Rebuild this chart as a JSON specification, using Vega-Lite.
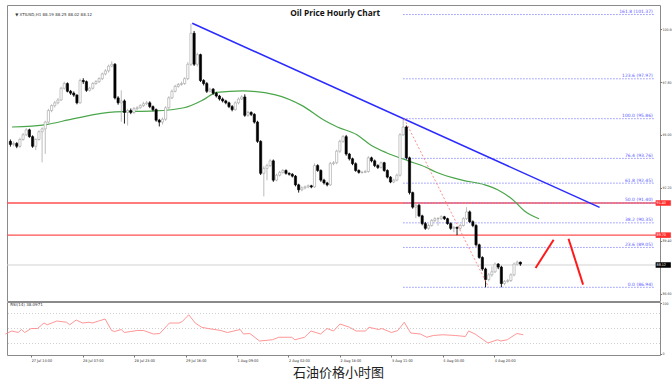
{
  "$schema": "https://vega.github.io/schema/vega-lite/v6.json",
  "padding": {"left": 3, "top": 4, "right": 0, "bottom": 0},
  "background": "white",
  "bounds": "flush",
  "spacing": 1,
  "config": {"view": {"stroke": "#8a8a8a", "strokeWidth": 1}, "font": "DejaVu Sans"},
  "datasets": {
    "candles": [
      {"i":0,"o":94.66,"h":94.76,"l":94.38,"c":94.50},{"i":1,"o":94.50,"h":94.65,"l":94.40,"c":94.55},{"i":2,"o":94.55,"h":94.62,"l":94.30,"c":94.40},{"i":3,"o":94.40,"h":94.85,"l":94.32,"c":94.76},{"i":4,"o":94.76,"h":95.10,"l":94.70,"c":95.01},{"i":5,"o":95.01,"h":95.36,"l":94.95,"c":95.27},{"i":6,"o":95.27,"h":95.33,"l":94.85,"c":94.91},{"i":7,"o":94.91,"h":94.98,"l":94.32,"c":94.40},{"i":8,"o":94.40,"h":94.82,"l":94.20,"c":94.76},{"i":9,"o":94.76,"h":95.25,"l":94.70,"c":95.17},
      {"i":10,"o":95.17,"h":95.40,"l":93.55,"c":95.32},{"i":11,"o":95.32,"h":95.75,"l":94.00,"c":95.68},{"i":12,"o":95.68,"h":96.38,"l":95.60,"c":96.29},{"i":13,"o":96.29,"h":96.62,"l":96.20,"c":96.55},{"i":14,"o":96.55,"h":96.80,"l":96.45,"c":96.70},{"i":15,"o":96.70,"h":96.95,"l":96.62,"c":96.85},{"i":16,"o":96.85,"h":97.55,"l":96.80,"c":97.47},{"i":17,"o":97.47,"h":97.82,"l":97.40,"c":97.72},{"i":18,"o":97.72,"h":97.78,"l":97.25,"c":97.31},{"i":19,"o":97.31,"h":97.38,"l":97.12,"c":97.21},
      {"i":20,"o":97.21,"h":97.30,"l":97.02,"c":97.11},{"i":21,"o":97.11,"h":97.15,"l":96.62,"c":96.70},{"i":22,"o":96.70,"h":97.98,"l":96.65,"c":97.88},{"i":23,"o":97.88,"h":98.00,"l":97.70,"c":97.82},{"i":24,"o":97.82,"h":97.88,"l":97.28,"c":97.36},{"i":25,"o":97.36,"h":97.55,"l":97.30,"c":97.47},{"i":26,"o":97.47,"h":97.80,"l":97.40,"c":97.72},{"i":27,"o":97.72,"h":97.90,"l":97.65,"c":97.82},{"i":28,"o":97.82,"h":98.05,"l":97.75,"c":97.98},{"i":29,"o":97.98,"h":98.30,"l":97.90,"c":98.23},
      {"i":30,"o":98.23,"h":98.48,"l":98.15,"c":98.39},{"i":31,"o":98.39,"h":98.72,"l":98.30,"c":98.64},{"i":32,"o":98.64,"h":98.90,"l":98.58,"c":98.74},{"i":33,"o":98.74,"h":98.80,"l":96.88,"c":96.96},{"i":34,"o":96.96,"h":97.05,"l":96.60,"c":96.70},{"i":35,"o":96.70,"h":97.36,"l":95.70,"c":96.80},{"i":36,"o":96.80,"h":96.88,"l":95.60,"c":96.19},{"i":37,"o":96.19,"h":96.38,"l":95.50,"c":96.29},{"i":38,"o":96.29,"h":96.40,"l":96.10,"c":96.19},{"i":39,"o":96.19,"h":96.48,"l":96.12,"c":96.39},
      {"i":40,"o":96.39,"h":96.52,"l":96.30,"c":96.44},{"i":41,"o":96.44,"h":96.62,"l":96.38,"c":96.55},{"i":42,"o":96.55,"h":96.75,"l":96.48,"c":96.65},{"i":43,"o":96.65,"h":96.80,"l":96.58,"c":96.70},{"i":44,"o":96.70,"h":96.78,"l":96.42,"c":96.50},{"i":45,"o":96.50,"h":96.56,"l":96.25,"c":96.34},{"i":46,"o":96.34,"h":96.40,"l":95.70,"c":95.78},{"i":47,"o":95.78,"h":95.85,"l":95.45,"c":95.68},{"i":48,"o":95.68,"h":95.92,"l":95.55,"c":95.83},{"i":49,"o":95.83,"h":96.52,"l":95.75,"c":96.44},
      {"i":50,"o":96.44,"h":97.05,"l":96.38,"c":96.96},{"i":51,"o":96.96,"h":97.40,"l":96.90,"c":97.31},{"i":52,"o":97.31,"h":97.65,"l":97.25,"c":97.57},{"i":53,"o":97.57,"h":97.75,"l":97.50,"c":97.67},{"i":54,"o":97.67,"h":97.82,"l":97.60,"c":97.72},{"i":55,"o":97.72,"h":98.05,"l":97.65,"c":97.98},{"i":56,"o":97.98,"h":98.85,"l":97.90,"c":98.74},{"i":57,"o":98.74,"h":100.89,"l":98.65,"c":100.38},{"i":58,"o":100.38,"h":100.50,"l":98.65,"c":98.74},{"i":59,"o":98.74,"h":99.35,"l":98.62,"c":99.25},
      {"i":60,"o":99.25,"h":99.30,"l":97.80,"c":97.88},{"i":61,"o":97.88,"h":97.95,"l":97.62,"c":97.72},{"i":62,"o":97.72,"h":97.80,"l":97.22,"c":97.31},{"i":63,"o":97.31,"h":97.50,"l":97.25,"c":97.42},{"i":64,"o":97.42,"h":97.48,"l":97.12,"c":97.21},{"i":65,"o":97.21,"h":97.28,"l":96.98,"c":97.06},{"i":66,"o":97.06,"h":97.12,"l":96.82,"c":96.90},{"i":67,"o":96.90,"h":96.98,"l":96.72,"c":96.80},{"i":68,"o":96.80,"h":96.86,"l":96.62,"c":96.70},{"i":69,"o":96.70,"h":96.76,"l":96.42,"c":96.50},
      {"i":70,"o":96.50,"h":96.58,"l":96.25,"c":96.34},{"i":71,"o":96.34,"h":96.78,"l":96.28,"c":96.70},{"i":72,"o":96.70,"h":96.98,"l":96.62,"c":96.90},{"i":73,"o":96.90,"h":97.10,"l":96.85,"c":97.01},{"i":74,"o":97.01,"h":97.15,"l":95.96,"c":96.04},{"i":75,"o":96.04,"h":96.28,"l":95.96,"c":96.19},{"i":76,"o":96.19,"h":96.25,"l":96.00,"c":96.09},{"i":77,"o":96.09,"h":96.15,"l":95.60,"c":95.68},{"i":78,"o":95.68,"h":95.75,"l":94.58,"c":94.66},{"i":79,"o":94.66,"h":94.72,"l":92.88,"c":92.97},
      {"i":80,"o":92.97,"h":93.35,"l":91.75,"c":93.23},{"i":81,"o":93.23,"h":93.48,"l":92.60,"c":93.38},{"i":82,"o":93.38,"h":93.72,"l":93.30,"c":93.63},{"i":83,"o":93.63,"h":93.70,"l":92.52,"c":92.61},{"i":84,"o":92.61,"h":92.95,"l":92.55,"c":92.87},{"i":85,"o":92.87,"h":93.10,"l":92.80,"c":93.02},{"i":86,"o":93.02,"h":93.20,"l":92.95,"c":93.12},{"i":87,"o":93.12,"h":93.18,"l":92.90,"c":92.97},{"i":88,"o":92.97,"h":93.02,"l":92.85,"c":92.92},{"i":89,"o":92.92,"h":92.98,"l":92.75,"c":92.82},
      {"i":90,"o":92.82,"h":92.88,"l":92.28,"c":92.36},{"i":91,"o":92.36,"h":92.42,"l":91.95,"c":92.10},{"i":92,"o":92.10,"h":92.28,"l":92.02,"c":92.20},{"i":93,"o":92.20,"h":92.32,"l":92.12,"c":92.25},{"i":94,"o":92.25,"h":92.38,"l":92.18,"c":92.31},{"i":95,"o":92.31,"h":92.36,"l":92.18,"c":92.25},{"i":96,"o":92.25,"h":93.50,"l":92.20,"c":93.38},{"i":97,"o":93.38,"h":93.45,"l":93.05,"c":93.12},{"i":98,"o":93.12,"h":93.18,"l":92.52,"c":92.61},{"i":99,"o":92.61,"h":92.68,"l":92.38,"c":92.46},
      {"i":100,"o":92.46,"h":92.52,"l":92.28,"c":92.36},{"i":101,"o":92.36,"h":93.58,"l":92.30,"c":93.48},{"i":102,"o":93.48,"h":93.62,"l":93.40,"c":93.53},{"i":103,"o":93.53,"h":94.22,"l":93.45,"c":94.14},{"i":104,"o":94.14,"h":94.75,"l":94.05,"c":94.66},{"i":105,"o":94.66,"h":95.00,"l":94.58,"c":94.91},{"i":106,"o":94.91,"h":95.00,"l":93.90,"c":93.99},{"i":107,"o":93.99,"h":94.05,"l":93.65,"c":93.74},{"i":108,"o":93.74,"h":93.80,"l":93.40,"c":93.48},{"i":109,"o":93.48,"h":93.55,"l":93.05,"c":93.12},
      {"i":110,"o":93.12,"h":93.18,"l":92.95,"c":93.02},{"i":111,"o":93.02,"h":93.10,"l":92.95,"c":93.02},{"i":112,"o":93.02,"h":93.14,"l":92.98,"c":93.07},{"i":113,"o":93.07,"h":93.88,"l":93.00,"c":93.79},{"i":114,"o":93.79,"h":93.85,"l":93.55,"c":93.63},{"i":115,"o":93.63,"h":93.70,"l":93.30,"c":93.38},{"i":116,"o":93.38,"h":93.45,"l":93.20,"c":93.28},{"i":117,"o":93.28,"h":93.60,"l":93.22,"c":93.53},{"i":118,"o":93.53,"h":93.58,"l":93.05,"c":93.12},{"i":119,"o":93.12,"h":93.18,"l":92.70,"c":92.77},
      {"i":120,"o":92.77,"h":92.82,"l":92.45,"c":92.51},{"i":121,"o":92.51,"h":92.68,"l":92.45,"c":92.61},{"i":122,"o":92.61,"h":92.95,"l":92.55,"c":92.87},{"i":123,"o":92.87,"h":95.10,"l":92.80,"c":95.01},{"i":124,"o":95.01,"h":95.86,"l":94.95,"c":95.42},{"i":125,"o":95.42,"h":95.50,"l":93.70,"c":93.79},{"i":126,"o":93.79,"h":93.85,"l":91.85,"c":91.95},{"i":127,"o":91.95,"h":92.00,"l":91.10,"c":91.18},{"i":128,"o":91.18,"h":91.40,"l":90.60,"c":91.28},{"i":129,"o":91.28,"h":91.35,"l":90.65,"c":90.72},
      {"i":130,"o":90.72,"h":90.78,"l":90.22,"c":90.31},{"i":131,"o":90.31,"h":90.40,"l":89.98,"c":90.06},{"i":132,"o":90.06,"h":90.30,"l":89.98,"c":90.21},{"i":133,"o":90.21,"h":90.55,"l":90.15,"c":90.47},{"i":134,"o":90.47,"h":90.65,"l":90.40,"c":90.57},{"i":135,"o":90.57,"h":90.65,"l":90.20,"c":90.57},{"i":136,"o":90.57,"h":90.75,"l":90.50,"c":90.67},{"i":137,"o":90.67,"h":90.72,"l":90.50,"c":90.57},{"i":138,"o":90.57,"h":90.62,"l":90.25,"c":90.31},{"i":139,"o":90.31,"h":90.38,"l":89.98,"c":90.06},
      {"i":140,"o":90.06,"h":90.18,"l":89.85,"c":90.11},{"i":141,"o":90.11,"h":90.15,"l":89.70,"c":90.06},{"i":142,"o":90.06,"h":90.30,"l":89.98,"c":90.21},{"i":143,"o":90.21,"h":90.65,"l":90.15,"c":90.57},{"i":144,"o":90.57,"h":91.18,"l":90.50,"c":90.93},{"i":145,"o":90.93,"h":91.00,"l":90.35,"c":90.41},{"i":146,"o":90.41,"h":90.48,"l":90.12,"c":90.21},{"i":147,"o":90.21,"h":90.28,"l":89.10,"c":89.19},{"i":148,"o":89.19,"h":89.25,"l":88.45,"c":88.52},{"i":149,"o":88.52,"h":88.58,"l":87.82,"c":87.91},
      {"i":150,"o":87.91,"h":87.98,"l":86.94,"c":87.35},{"i":151,"o":87.35,"h":87.70,"l":87.25,"c":87.60},{"i":152,"o":87.60,"h":88.05,"l":87.50,"c":87.76},{"i":153,"o":87.76,"h":88.25,"l":87.70,"c":88.17},{"i":154,"o":88.17,"h":88.22,"l":87.90,"c":88.01},{"i":155,"o":88.01,"h":88.08,"l":86.94,"c":87.14},{"i":156,"o":87.14,"h":87.32,"l":87.05,"c":87.25},{"i":157,"o":87.25,"h":87.38,"l":87.18,"c":87.30},{"i":158,"o":87.30,"h":87.68,"l":87.22,"c":87.60},{"i":159,"o":87.60,"h":88.25,"l":87.52,"c":88.17},
      {"i":160,"o":88.17,"h":88.35,"l":88.10,"c":88.27},{"i":161,"o":88.27,"h":88.30,"l":88.08,"c":88.17}
    ],
    "sma": [
      {"i":0.5,"p":95.42},{"i":11.4,"p":95.55},{"i":19.7,"p":95.85},{"i":33.1,"p":96.22},{"i":45.5,"p":96.27},{"i":54.8,"p":96.44},{"i":61,"p":96.87},{"i":65.1,"p":97.25},{"i":73.4,"p":97.33},{"i":83.7,"p":97.12},{"i":92.1,"p":96.55},{"i":99.2,"p":95.76},{"i":103.2,"p":95.42},{"i":109.4,"p":95.01},{"i":113.5,"p":94.5},{"i":118.7,"p":94.06},{"i":125.6,"p":93.63},{"i":131.2,"p":93.29},{"i":134.3,"p":93.04},{"i":142.6,"p":92.61},{"i":149.8,"p":92.36},{"i":153.8,"p":92.1},{"i":159.1,"p":91.5},{"i":162.2,"p":90.99},{"i":166.9,"p":90.57}
    ],
    "rsi": [
      {"i":0,"v":39},{"i":2,"v":45},{"i":4,"v":42},{"i":5,"v":48},{"i":6,"v":42},{"i":8,"v":50},{"i":10,"v":50},{"i":12,"v":61},{"i":13,"v":57.5},{"i":16,"v":65},{"i":19,"v":62.5},{"i":20,"v":57.5},{"i":22,"v":67},{"i":24,"v":61},{"i":26,"v":62.5},{"i":27,"v":61},{"i":29,"v":65},{"i":31,"v":69},{"i":33,"v":46},{"i":34,"v":44},{"i":36,"v":48},{"i":37,"v":42},{"i":39,"v":44},{"i":41,"v":46},{"i":43,"v":46},{"i":46,"v":39},{"i":48,"v":40},{"i":51,"v":61},{"i":54,"v":61},{"i":55,"v":64},{"i":57,"v":77.5},{"i":59,"v":61},{"i":61,"v":52.5},{"i":63,"v":50},{"i":67,"v":46},{"i":69,"v":42},{"i":73,"v":48},{"i":74,"v":39},{"i":76,"v":40},{"i":79,"v":25},{"i":83,"v":27.5},{"i":85,"v":32.5},{"i":89,"v":32.5},{"i":90,"v":27.5},{"i":93,"v":32.5},{"i":95,"v":45},{"i":98,"v":39},{"i":100,"v":50},{"i":102,"v":45},{"i":104,"v":59},{"i":107,"v":52.5},{"i":109,"v":45},{"i":112,"v":45},{"i":113,"v":52.5},{"i":116,"v":48},{"i":117,"v":50},{"i":120,"v":42},{"i":122,"v":46},{"i":124,"v":62.5},{"i":126,"v":41},{"i":129,"v":39},{"i":131,"v":32.5},{"i":133,"v":36},{"i":136,"v":37.5},{"i":140,"v":36},{"i":143,"v":34},{"i":144,"v":45},{"i":146,"v":39},{"i":150,"v":21},{"i":153,"v":27.5},{"i":154,"v":25},{"i":156,"v":27.5},{"i":159,"v":40},{"i":161,"v":37.5}
    ],
    "fib": [
      {"p":86.94,"t":"0.0 (86.94)"},{"p":89.05,"t":"23.6 (89.05)"},{"p":90.35,"t":"38.2 (90.35)"},{"p":91.40,"t":"50.0 (91.40)"},{"p":92.45,"t":"61.8 (92.45)"},{"p":93.76,"t":"76.4 (93.76)"},{"p":95.86,"t":"100.0 (95.86)"},{"p":97.97,"t":"123.6 (97.97)"},{"p":101.37,"t":"161.8 (101.37)"}
    ],
    "redlines": [{"p":91.40,"t":"91.40"},{"p":89.70,"t":"89.70"}],
    "current": [{"p":88.12,"t":"88.12"}],
    "trend": [{"i":57.4,"p":100.91},{"i":186,"p":91.17}],
    "fibtrend": [{"i":124.3,"p":95.86},{"i":151,"p":86.94}],
    "proj": [{"seg":"a","i":165.8,"p":87.96},{"seg":"a","i":171.5,"p":89.46},{"seg":"b","i":176.2,"p":89.51},{"seg":"b","i":180.8,"p":87.08}],
    "rsilevels": [{"v":80},{"v":50},{"v":20}]
  },
  "vconcat": [
    {
      "width": 653,
      "height": 296,
      "layer": [
        {
          "data": {"name": "current"},
          "mark": {"type": "rule", "color": "#d2d2d2", "strokeWidth": 1},
          "encoding": {
            "y": {"field": "p", "type": "quantitative",
              "scale": {"domain": [86.48, 101.61], "nice": false, "zero": false},
              "axis": {"orient": "right", "values": [86.6,87.3,88.0,88.7,89.4,90.1,90.8,91.5,92.2,92.9,93.6,94.3,95.0,95.7,96.4,97.1,97.8,98.5,99.2,99.9,100.6,101.3],
                "format": ".2f", "labelFont": "Liberation Sans Narrow, DejaVu Sans Condensed, sans-serif", "labelFontSize": 3.5, "labelColor": "#444", "labelOverlap": false, "labelFlush": false, "tickSize": 1.5, "tickColor": "#777", "labelPadding": 0.5, "domain": false, "grid": false, "title": null}}
          }
        },
        {
          "data": {"name": "redlines"},
          "mark": {"type": "rule", "color": "#ff5050", "strokeWidth": 1.3},
          "encoding": {"y": {"field": "p", "type": "quantitative"}}
        },
        {
          "data": {"name": "fib"},
          "mark": {"type": "rule", "color": "#7878ff", "strokeWidth": 0.8, "strokeDash": [1.5, 1.5]},
          "encoding": {
            "x": {"datum": 124, "type": "quantitative", "scale": {"domain": [0.5, 203.5], "nice": false, "zero": false}, "axis": null},
            "x2": {"datum": 203.5},
            "y": {"field": "p", "type": "quantitative"}
          }
        },
        {
          "data": {"name": "fib"},
          "mark": {"type": "text", "align": "right", "baseline": "bottom", "dy": -0.5, "fontSize": 4.5, "color": "#5a5aff"},
          "encoding": {
            "x": {"datum": 202.8, "type": "quantitative"},
            "y": {"field": "p", "type": "quantitative"},
            "text": {"field": "t"}
          }
        },
        {
          "data": {"name": "sma"},
          "mark": {"type": "line", "color": "#4aa64a", "strokeWidth": 1.2, "interpolate": "monotone"},
          "encoding": {"x": {"field": "i", "type": "quantitative"}, "y": {"field": "p", "type": "quantitative"}}
        },
        {
          "data": {"name": "candles"},
          "mark": {"type": "rule", "strokeWidth": 0.9},
          "encoding": {
            "x": {"field": "i", "type": "quantitative"},
            "y": {"field": "l", "type": "quantitative"},
            "y2": {"field": "h"},
            "color": {"condition": {"test": "datum.c >= datum.o", "value": "#b4b4b4"}, "value": "#000000"}
          }
        },
        {
          "data": {"name": "candles"},
          "mark": {"type": "bar", "size": 2.2, "strokeWidth": 0.6},
          "encoding": {
            "x": {"field": "i", "type": "quantitative"},
            "y": {"field": "o", "type": "quantitative"},
            "y2": {"field": "c"},
            "fill": {"condition": {"test": "datum.c >= datum.o", "value": "#ffffff"}, "value": "#000000"},
            "stroke": {"condition": {"test": "datum.c >= datum.o", "value": "#a0a0a0"}, "value": "#000000"}
          }
        },
        {
          "data": {"name": "trend"},
          "mark": {"type": "line", "color": "#2b2bff", "strokeWidth": 1.5},
          "encoding": {"x": {"field": "i", "type": "quantitative"}, "y": {"field": "p", "type": "quantitative"}}
        },
        {
          "data": {"name": "fibtrend"},
          "mark": {"type": "line", "color": "#ff7070", "strokeWidth": 0.8, "strokeDash": [2, 2]},
          "encoding": {"x": {"field": "i", "type": "quantitative"}, "y": {"field": "p", "type": "quantitative"}}
        },
        {
          "data": {"name": "proj"},
          "mark": {"type": "line", "color": "#ff1a1a", "strokeWidth": 2},
          "encoding": {"x": {"field": "i", "type": "quantitative"}, "y": {"field": "p", "type": "quantitative"}, "detail": {"field": "seg"}}
        },
        {
          "data": {"values": [{"t": "Oil Price Hourly Chart"}]},
          "mark": {"type": "text", "font": "Open Sans", "fontWeight": "bold", "fontSize": 8.3, "color": "#111", "baseline": "middle", "align": "center"},
          "encoding": {"x": {"datum": 102.5, "type": "quantitative"}, "y": {"datum": 101.4, "type": "quantitative"}, "text": {"field": "t"}}
        },
        {
          "data": {"values": [{"t": "▼ XTIUSD,H1  88.19 88.25 88.02 88.12"}]},
          "mark": {"type": "text", "fontSize": 4, "color": "#333", "baseline": "middle", "align": "left"},
          "encoding": {"x": {"datum": 1.5, "type": "quantitative"}, "y": {"datum": 101.33, "type": "quantitative"}, "text": {"field": "t"}}
        },
        {
          "data": {"name": "redlines"},
          "mark": {"type": "bar", "orient": "horizontal", "size": 5.5, "color": "#ff3030"},
          "encoding": {"x": {"datum": 203.7, "type": "quantitative"}, "x2": {"datum": 208.5}, "y": {"field": "p", "type": "quantitative"}}
        },
        {
          "data": {"name": "current"},
          "mark": {"type": "bar", "orient": "horizontal", "size": 5.5, "color": "#000000"},
          "encoding": {"x": {"datum": 203.7, "type": "quantitative"}, "x2": {"datum": 208.5}, "y": {"field": "p", "type": "quantitative"}}
        },
        {
          "data": {"name": "redlines"},
          "mark": {"type": "text", "font": "Liberation Sans Narrow, DejaVu Sans Condensed, sans-serif", "fontSize": 3.6, "color": "#ffffff", "align": "left", "baseline": "middle"},
          "encoding": {"x": {"datum": 204, "type": "quantitative"}, "y": {"field": "p", "type": "quantitative"}, "text": {"field": "t"}}
        },
        {
          "data": {"name": "current"},
          "mark": {"type": "text", "font": "Liberation Sans Narrow, DejaVu Sans Condensed, sans-serif", "fontSize": 3.6, "color": "#ffffff", "align": "left", "baseline": "middle"},
          "encoding": {"x": {"datum": 204, "type": "quantitative"}, "y": {"field": "p", "type": "quantitative"}, "text": {"field": "t"}}
        }
      ]
    },
    {
      "width": 653,
      "height": 53,
      "layer": [
        {
          "data": {"name": "rsilevels"},
          "mark": {"type": "rule", "color": "#c4c4c4", "strokeWidth": 0.8, "strokeDash": [1, 2]},
          "encoding": {
            "y": {"field": "v", "type": "quantitative",
              "scale": {"domain": [-3, 103], "nice": false, "zero": false},
              "axis": {"orient": "right", "values": [0, 20, 50, 80, 100], "labelFont": "Liberation Sans Narrow, DejaVu Sans Condensed, sans-serif", "labelFontSize": 3.5, "labelColor": "#444", "labelOverlap": false, "labelFlush": false, "tickSize": 1.5, "tickColor": "#777", "labelPadding": 0.5, "domain": false, "grid": false, "title": null}}
          }
        },
        {
          "data": {"name": "rsi"},
          "mark": {"type": "line", "color": "#ff8a8a", "strokeWidth": 0.9},
          "encoding": {
            "x": {"field": "i", "type": "quantitative",
              "scale": {"domain": [0.5, 203.5], "nice": false, "zero": false},
              "axis": {"orient": "bottom", "values": [0,8,16,24,32,40,48,56,64,72,80,88,96,104,112,120,128,136,144,152,160],
                "labelExpr": "['27 Jul 2022','27 Jul 14:00','27 Jul 22:00','28 Jul 07:00','28 Jul 15:00','28 Jul 23:00','29 Jul 08:00','29 Jul 16:00','1 Aug 01:00','1 Aug 09:00','1 Aug 17:00','2 Aug 02:00','2 Aug 10:00','2 Aug 18:00','3 Aug 03:00','3 Aug 11:00','3 Aug 19:00','4 Aug 04:00','4 Aug 12:00','4 Aug 20:00','5 Aug 05:00'][datum.value / 8]",
                "labelFont": "Liberation Sans Narrow, DejaVu Sans Condensed, sans-serif", "labelAlign": "left", "labelFontSize": 3.8, "labelColor": "#333", "labelOverlap": false, "labelFlush": false, "tickSize": 2, "tickColor": "#777", "labelPadding": 1, "domain": false, "grid": false,
                "title": "石油价格小时图", "titleFont": "Noto Sans CJK SC", "titleFontSize": 13, "titleFontWeight": "normal", "titleColor": "#222", "titlePadding": 4.5, "titleX": 331}
            },
            "y": {"field": "v", "type": "quantitative"}
          }
        },
        {
          "data": {"values": [{"t": "RSI(14) 38.0971"}]},
          "mark": {"type": "text", "fontSize": 4, "color": "#333", "align": "left", "baseline": "middle"},
          "encoding": {"x": {"datum": 1.5, "type": "quantitative"}, "y": {"datum": 98, "type": "quantitative"}, "text": {"field": "t"}}
        }
      ]
    }
  ]
}
